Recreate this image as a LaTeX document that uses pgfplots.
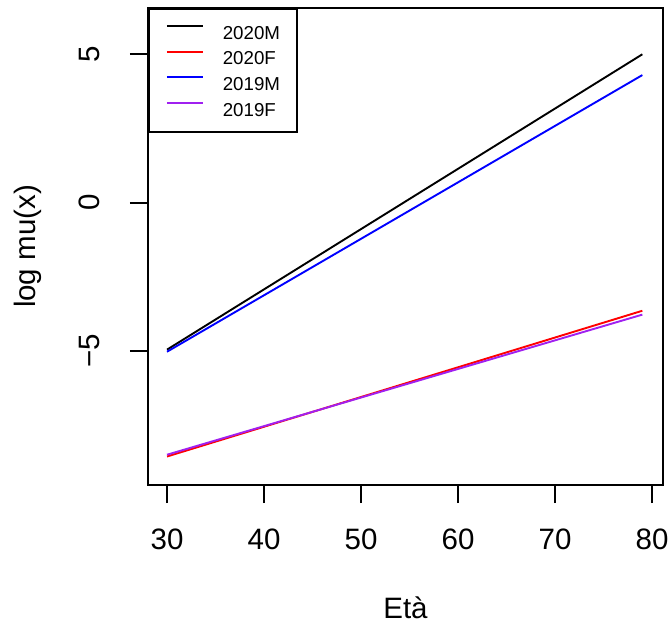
\documentclass[border=0pt]{standalone}
\usepackage{pgfplots}
\pgfplotsset{compat=1.18}
\usepackage{fontspec}
\setmainfont{Liberation Sans}
\definecolor{rpurple}{RGB}{160,32,240}
\begin{document}
\begin{tikzpicture}
\path[use as bounding box] (-148bp,-140bp) rectangle (524bp,477bp+8bp);
\begin{axis}[
  at={(0,0)}, anchor=south west,
  scale only axis, width=515bp, height=477bp,
  xmin=28.04, xmax=81.13, ymin=-9.51, ymax=6.56,
  xtick={30,40,50,60,70,80},
  ytick={-5,0,5},
  yticklabels={−5,0,5},
  xtick pos=bottom, ytick pos=left,
  tick align=outside,
  major tick length=18bp,
  every tick/.style={black, line width=1.8bp},
  axis line style={line width=1.8bp},
  font=\fontsize{29.5bp}{34bp}\selectfont,
  /pgf/number format/assume math mode=true,
  xticklabel style={anchor=north, inner sep=0pt, font=\fontsize{29.5bp}{34bp}\selectfont},
  xticklabel shift=26.2bp,
  yticklabel style={rotate=90, anchor=south, inner sep=0pt, font=\fontsize{29.5bp}{34bp}\selectfont},
  yticklabel shift=30bp,
  xlabel={Età},
  xlabel style={at={(axis description cs:0.5,0)}, anchor=base, yshift=-133bp},
  ylabel={log mu(x)},
  ylabel style={at={(axis description cs:-0.2175,0.5)}, anchor=base, rotate=0},
  legend style={at={(0,1)}, anchor=north west, draw=black, line width=1.8bp,
    font=\fontsize{18.7bp}{22bp}\selectfont,
    inner xsep=17bp, inner ysep=16bp,
    nodes={inner sep=0pt, text height=13.4bp, text depth=0pt},
    row sep=11.3bp},
  legend cell align=left,
  legend image code/.code={\draw[#1, line width=2bp] (0bp,6.7bp) -- (36bp,6.7bp); \path (55bp,6.7bp);},
]
\addplot[black, line width=1.9bp] coordinates {(30,-4.95) (79,5.00)};
\addlegendentry{2020M}
\addplot[red, line width=1.9bp] coordinates {(30,-8.55) (79,-3.64)};
\addlegendentry{2020F}
\addplot[blue, line width=1.9bp] coordinates {(30,-5.02) (79,4.30)};
\addlegendentry{2019M}
\addplot[rpurple, line width=1.9bp] coordinates {(30,-8.49) (79,-3.77)};
\addlegendentry{2019F}
\end{axis}
\end{tikzpicture}
\end{document}
